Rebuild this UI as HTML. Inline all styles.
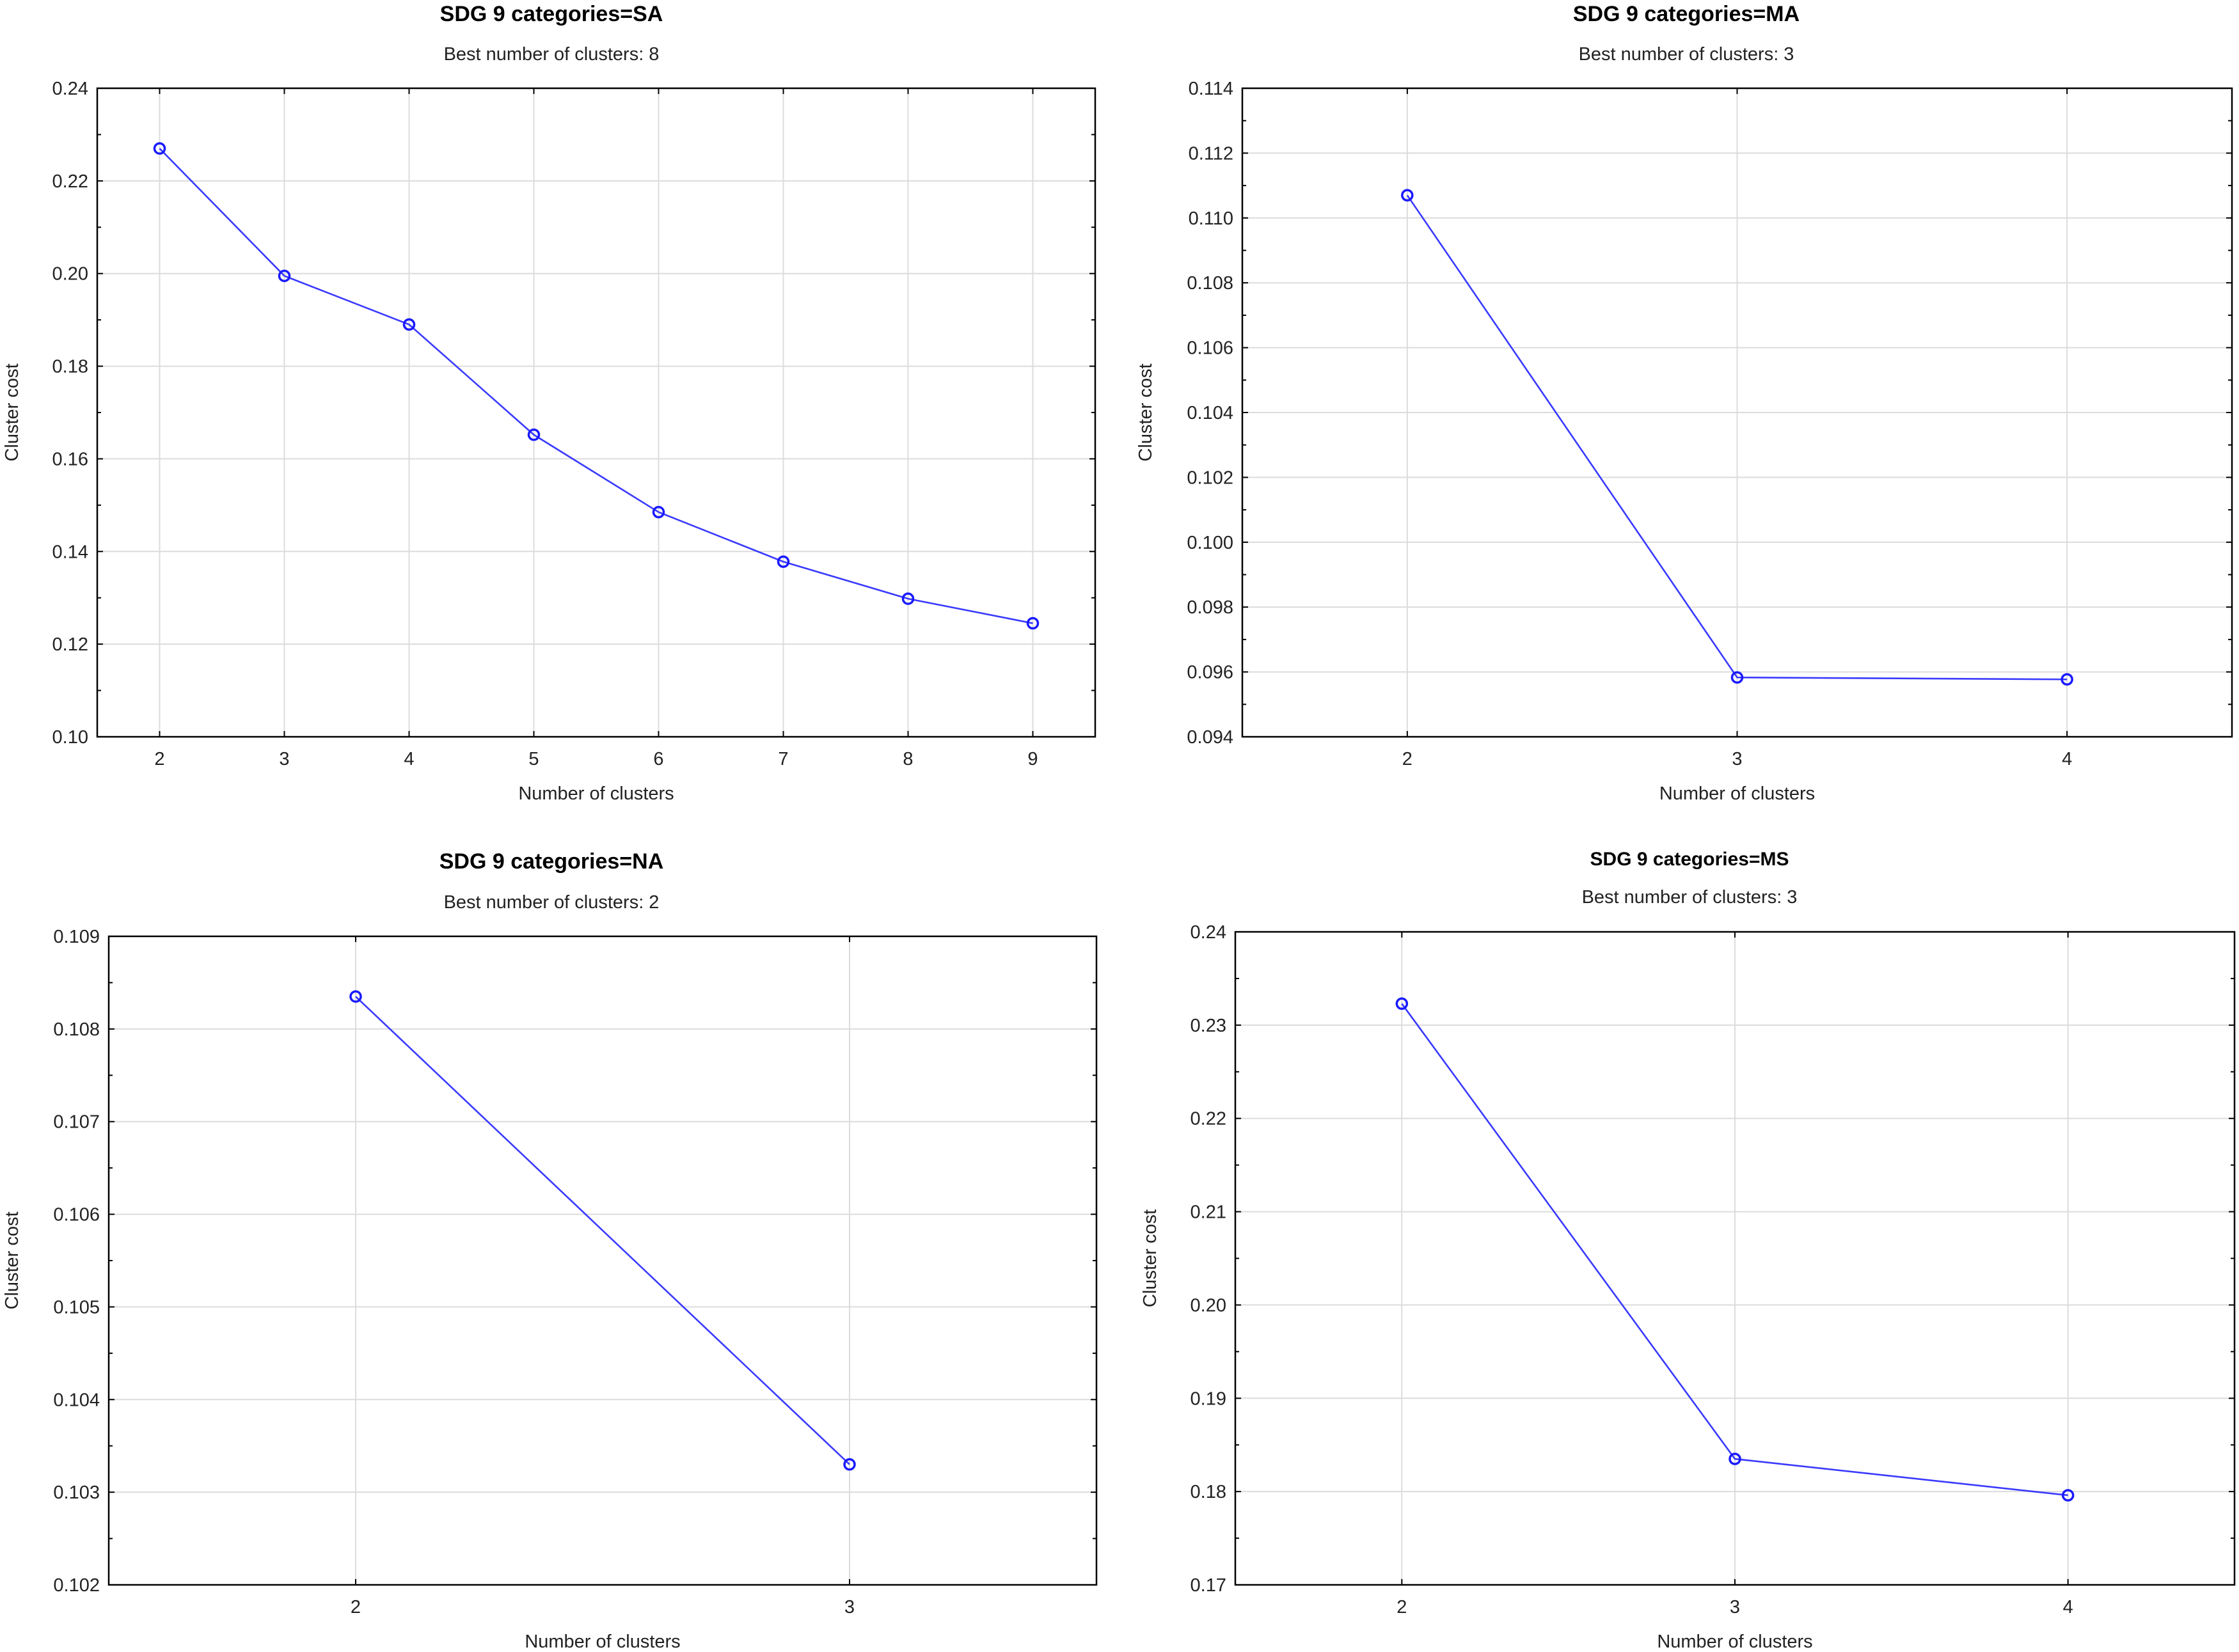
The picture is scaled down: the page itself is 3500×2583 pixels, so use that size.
<!DOCTYPE html>
<html><head><meta charset="utf-8"><style>
html,body{margin:0;padding:0;background:#fff;}
svg{display:block;font-family:"Liberation Sans",Arial,sans-serif;}
</style></head><body>
<svg id="chart" width="3500" height="2583" viewBox="0 0 3500 2583" xmlns="http://www.w3.org/2000/svg"></svg>
<script>
const saClusters = [2,3,4,5,6,7,8,9];
const saCost = [0.227,0.1995,0.189,0.1652,0.1485,0.1378,0.1298,0.1245];
const saYTicks = ["0.10","0.12","0.14","0.16","0.18","0.20","0.22","0.24"];
const maClusters = [2,3,4];
const maCost = [0.1107,0.09583,0.09577];
const maYTicks = ["0.094","0.096","0.098","0.100","0.102","0.104","0.106","0.108","0.110","0.112","0.114"];
const naClusters = [2,3];
const naCost = [0.10835,0.10330];
const naYTicks = ["0.102","0.103","0.104","0.105","0.106","0.107","0.108","0.109"];
const msClusters = [2,3,4];
const msCost = [0.2323,0.1835,0.1796];
const msYTicks = ["0.17","0.18","0.19","0.20","0.21","0.22","0.23","0.24"];
const titles = ["SDG 9 categories=SA","SDG 9 categories=MA","SDG 9 categories=NA","SDG 9 categories=MS"];
const subtitles = ["Best number of clusters: 8","Best number of clusters: 3","Best number of clusters: 2","Best number of clusters: 3"];

const NS="http://www.w3.org/2000/svg";
const svg=document.getElementById('chart');
function mk(tag,attrs,parent,text){const e=document.createElementNS(NS,tag);for(const k in attrs)e.setAttribute(k,attrs[k]);if(text!==undefined)e.textContent=text;(parent||svg).appendChild(e);return e;}

function panel(id,box,xs,ys,yTicks,title,sub,tY,sY,titleSize,yTitleX,tX){
  const g=mk('g',{});
  
  
  const [L,R,T,B]=box;
  const xmin=xs[0]-0.5,xmax=xs[xs.length-1]+0.5;
  const ymin=parseFloat(yTicks[0]),ymax=parseFloat(yTicks[yTicks.length-1]);
  const X=v=>L+(v-xmin)/(xmax-xmin)*(R-L);
  const Y=v=>B-(v-ymin)/(ymax-ymin)*(B-T);
  yTicks.forEach((t,i)=>{const y=Y(parseFloat(t));
    if(i>0&&i<yTicks.length-1){const l=mk('line',{x1:L,x2:R,y1:y,y2:y,stroke:'#dcdcdc','stroke-width':2},g);}
    mk('line',{x1:L,x2:L+9,y1:y,y2:y,stroke:'#000','stroke-width':2},g);
    mk('line',{x1:R,x2:R-9,y1:y,y2:y,stroke:'#000','stroke-width':2},g);
    if(i<yTicks.length-1){const ym=(y+Y(parseFloat(yTicks[i+1])))/2;
      mk('line',{x1:L,x2:L+6,y1:ym,y2:ym,stroke:'#000','stroke-width':2},g);
      mk('line',{x1:R,x2:R-6,y1:ym,y2:ym,stroke:'#000','stroke-width':2},g);}
    const tl=mk('text',{x:L-14,y:y+10,'text-anchor':'end','font-size':29,fill:'#222'},g,t);
    
  });
  xs.forEach(v=>{const x=X(v);
    const l=mk('line',{x1:x,x2:x,y1:T,y2:B,stroke:'#dcdcdc','stroke-width':2},g);
    mk('line',{x1:x,x2:x,y1:B,y2:B-9,stroke:'#000','stroke-width':2},g);
    mk('line',{x1:x,x2:x,y1:T,y2:T+9,stroke:'#000','stroke-width':2},g);
    const tl=mk('text',{x:x,y:B+44,'text-anchor':'middle','font-size':29,fill:'#222'},g,String(v));
    
  });
  const fr=mk('rect',{x:L,y:T,width:R-L,height:B-T,fill:'none',stroke:'#000','stroke-width':2.5},g);
  
  const pts=xs.map((v,i)=>X(v)+','+Y(ys[i])).join(' ');
  const pl=mk('polyline',{points:pts,fill:'none',stroke:'#3a3aff','stroke-width':2.6},g);
  
  xs.forEach((v,i)=>{const c=mk('circle',{cx:X(v),cy:Y(ys[i]),r:8,fill:'none',stroke:'#1a1aff','stroke-width':3.5},g);
    });
  const tt=mk('text',{x:tX,y:tY,'text-anchor':'middle','font-size':titleSize,'font-weight':'bold',fill:'#000'},g,title);
  
  const st=mk('text',{x:tX,y:sY,'text-anchor':'middle','font-size':29,fill:'#222'},g,sub);
  
  const xt=mk('text',{x:(L+R)/2,y:B+98,'text-anchor':'middle','font-size':29,fill:'#222'},g,'Number of clusters');
  
  const cy=(T+B)/2;
  const yt=mk('text',{x:yTitleX,y:cy,'text-anchor':'middle','font-size':29,fill:'#222',transform:'rotate(-90 '+yTitleX+' '+cy+')'},g,'Cluster cost');
  
}
panel('sa',[152,1712,138,1152],saClusters,saCost,saYTicks,titles[0],subtitles[0],33,94,34,28,862);
panel('ma',[1942,3489,138,1152],maClusters,maCost,maYTicks,titles[1],subtitles[1],33,94,34,1800,2636);
panel('na',[170,1714,1464,2478],naClusters,naCost,naYTicks,titles[2],subtitles[2],1358,1420,34,28,862);
panel('ms',[1931,3493,1457,2478],msClusters,msCost,msYTicks,titles[3],subtitles[3],1353,1412,30,1807,2641);
</script>
</body></html>
